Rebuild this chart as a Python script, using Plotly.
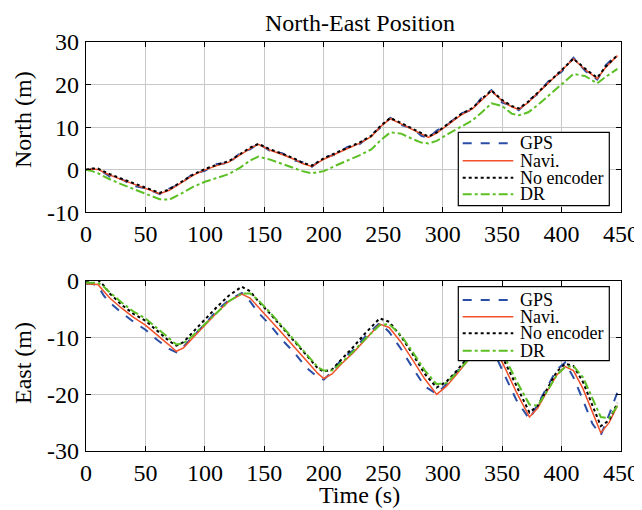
import plotly.graph_objects as go

t_north = [0, 5, 10, 20, 30, 40, 50, 62, 70, 80, 90, 100, 110, 120, 130, 138, 145, 155, 165, 175,
           182, 190, 200, 210, 220, 230, 240, 248, 256, 265, 275, 282, 288, 295, 305, 315, 325, 333,
           341, 350, 358, 364, 372, 380, 390, 400, 410, 420, 430, 437, 447]
north_gps = [0, 0.1, 0.3, -1.6, -2.2, -3.8, -4.3, -5.7, -4.4, -3.2, -0.9, -0.2, 1.4, 1.5, 4.0, 4.8, 6.2,
             4.4, 3.9, 2.2, 1.8, 0.7, 2.9, 3.6, 5.4, 6.0, 8.3, 10.0, 12.2, 10.5, 9.7, 8.0, 7.5, 9.2,
             10.8, 13.2, 14.1, 17.0, 18.7, 15.8, 15.1, 14.0, 16.3, 17.8, 21.1, 23.0, 26.3, 23.2, 21.2,
             24.5, 27.2]
north_navi = [0, 0.2, 0.1, -1.2, -2.3, -3.3, -4.4, -5.6, -4.8, -3.0, -1.3, 0, 1.0, 1.8, 3.6, 5.0, 6.0,
              4.6, 3.6, 2.5, 1.5, 0.8, 2.5, 3.8, 5.0, 6.2, 7.8, 10.2, 12.0, 10.8, 9.4, 8.3, 7.6, 8.6,
              10.8, 12.8, 14.3, 16.5, 18.5, 16.2, 14.8, 14.2, 15.8, 18.0, 20.6, 23.2, 26.0, 23.5, 21.4,
              24.0, 26.8]
north_noenc = [0, 0.3, 0.3, -1.0, -2.1, -3.1, -4.2, -5.4, -4.6, -2.8, -1.1, 0.2, 1.2, 2.0, 3.8, 5.2, 6.1,
               4.8, 3.8, 2.7, 1.7, 1.0, 2.7, 4.0, 5.2, 6.4, 8.0, 10.4, 12.2, 11.0, 9.6, 8.5, 7.8, 8.8,
               11.0, 13.0, 14.5, 16.7, 18.6, 16.4, 15.0, 14.4, 16.0, 18.2, 20.8, 23.4, 26.1, 23.7, 21.6,
               24.2, 26.9]
north_dr = [0, -0.3, -0.8, -2.2, -3.4, -4.5, -5.6, -6.9, -7.0, -5.6, -4.0, -2.8, -1.9, -1.0, 0.6, 2.2,
            3.1, 2.4, 1.4, 0.5, -0.3, -0.8, -0.3, 1.0, 2.2, 3.4, 4.8, 7.0, 8.8, 8.5, 7.2, 6.4, 6.2, 6.8,
            8.5, 10.0, 11.6, 13.5, 15.6, 15.0, 13.2, 12.8, 13.5, 15.2, 17.6, 20.2, 22.5, 22.0, 20.3,
            21.8, 23.7]

t_east = [0, 5, 10, 15, 20, 30, 40, 50, 60, 70, 76, 82, 90, 100, 110, 120, 131, 138, 145, 155, 165,
          175, 185, 195, 200, 207, 215, 225, 235, 247, 255, 265, 275, 285, 295, 303, 312, 322, 330,
          338, 345, 353, 362, 373, 380, 388, 396, 403, 410, 418, 426, 433, 440, 447]
east_gps = [-0.5, -0.5, -0.8, -2.6, -3.8, -5.6, -7.2, -8.6, -10.4, -12.0, -12.6, -11.6, -9.8, -7.6,
            -5.2, -3.4, -2.1, -3.6, -5.6, -7.8, -10.4, -12.6, -15.2, -17.0, -17.4, -16.0, -13.8, -12.2,
            -9.8, -7.4, -9.0, -12.0, -15.4, -18.6, -19.9, -18.2, -16.0, -13.4, -11.4, -10.6, -13.4,
            -17.0, -21.0, -24.4, -21.8, -18.6, -15.6, -14.4, -17.0, -21.0, -25.2, -27.2, -23.6, -19.6]
east_navi = [-0.5, -0.5, -0.6, -1.8, -3.0, -4.8, -6.4, -7.8, -9.5, -11.3, -12.4, -11.8, -10.0, -7.8,
             -5.6, -3.6, -2.3, -3.0, -4.6, -6.8, -9.2, -11.6, -14.0, -16.3, -17.2, -16.4, -14.6, -12.6,
             -10.3, -7.6, -8.2, -10.8, -14.0, -17.3, -20.0, -18.6, -16.4, -13.8, -11.8, -10.6, -12.2,
             -15.6, -19.6, -24.0, -22.4, -19.4, -16.6, -15.1, -15.8, -19.0, -23.2, -26.8, -25.0, -22.0]
east_noenc = [0, 0.2, 0.2, -0.8, -2.2, -4.2, -5.8, -7.0, -8.8, -10.6, -11.4, -10.8, -9.0, -6.8, -4.6,
              -2.6, -1.0, -1.8, -3.6, -5.8, -8.2, -10.6, -13.0, -15.4, -16.0, -15.6, -13.8, -11.6, -9.2,
              -6.6, -7.2, -9.8, -13.0, -16.4, -18.8, -17.8, -15.8, -13.2, -11.2, -10.0, -11.2, -14.6,
              -18.6, -23.2, -22.0, -19.0, -16.0, -14.6, -15.0, -17.8, -22.0, -25.6, -24.6, -21.5]
east_dr = [-0.3, -0.3, -0.3, -1.0, -2.0, -3.8, -5.4, -6.6, -8.4, -10.2, -11.2, -11.0, -9.6, -7.6, -5.6,
           -3.6, -2.2, -2.2, -3.4, -5.6, -8.0, -10.4, -12.8, -15.2, -15.8, -15.8, -14.4, -12.4, -10.2,
           -7.8, -7.6, -9.6, -12.6, -15.8, -18.2, -18.0, -16.2, -13.8, -11.8, -10.8, -10.8, -13.8,
           -17.6, -21.8, -22.0, -19.4, -16.6, -15.2, -15.0, -17.0, -20.6, -24.0, -24.2, -22.0]

x_ticks = [0, 50, 100, 150, 200, 250, 300, 350, 400, 450]
north_ticks = [-10, 0, 10, 20, 30]
east_ticks = [-30, -20, -10, 0]

names = ["GPS", "Navi.", "No encoder", "DR"]
colors = ["#2a4ea6", "#f0502a", "#000000", "#5cbf24"]
dashes = ["dash", "solid", "dot", "dashdot"]
widths = [2.0, 1.5, 2.0, 2.0]

FONT = "Liberation Serif, Times New Roman, Times, serif"
FS = 24

fig = go.Figure()

north = [north_gps, north_navi, north_noenc, north_dr]
east = [east_gps, east_navi, east_noenc, east_dr]
for i in range(4):
    fig.add_trace(go.Scatter(x=t_north, y=north[i], name=names[i], mode="lines",
                             line=dict(color=colors[i], dash=dashes[i], width=widths[i]),
                             xaxis="x", yaxis="y", showlegend=False))
for i in range(4):
    fig.add_trace(go.Scatter(x=t_east, y=east[i], name=names[i], mode="lines",
                             line=dict(color=colors[i], dash=dashes[i], width=widths[i]),
                             xaxis="x2", yaxis="y2", showlegend=False))


def lbl(v):
    return str(v)


axis_common = dict(showline=True, linecolor="black", linewidth=1.2, mirror="ticks",
                   ticks="inside", ticklen=5, tickcolor="black", automargin=False,
                   showgrid=True, gridcolor="#c8c8c8", gridwidth=1, zeroline=False,
                   tickfont=dict(family=FONT, size=FS, color="black"))

fig.update_layout(
    xaxis=dict(domain=[0, 1], anchor="y", range=[0, 450], tickvals=x_ticks,
               ticktext=[lbl(v) for v in x_ticks], ticklabelstandoff=0, **axis_common),
    yaxis=dict(domain=[0.5832, 1], anchor="x", range=[-10, 30], tickvals=north_ticks,
               ticktext=[lbl(v) for v in north_ticks], ticklabelstandoff=1, **axis_common),
    xaxis2=dict(domain=[0, 1], anchor="y2", range=[0, 450], tickvals=x_ticks,
                ticktext=[lbl(v) for v in x_ticks], ticklabelstandoff=0, **axis_common),
    yaxis2=dict(domain=[0, 0.4156], anchor="x2", range=[-30, 0], tickvals=east_ticks,
                ticktext=[lbl(v) for v in east_ticks], ticklabelstandoff=1, **axis_common),
)

title_font = dict(family=FONT, size=FS, color="black")
# Axis titles placed as annotations to match the reference layout
fig.add_annotation(xref="paper", yref="paper", x=(23 - 86) / 535, y=(451 - 120) / 409,
                   text="North (m)", textangle=-90, showarrow=False,
                   xanchor="center", yanchor="middle", font=title_font)
fig.add_annotation(xref="paper", yref="paper", x=(23 - 86) / 535, y=(451 - 363) / 409,
                   text="East (m)", textangle=-90, showarrow=False,
                   xanchor="center", yanchor="middle", font=title_font)
fig.add_annotation(xref="paper", yref="paper", x=(359 - 86) / 535, y=(451 - 495) / 409,
                   text="Time (s)", showarrow=False,
                   xanchor="center", yanchor="middle", font=title_font)


def add_legend(xref, yref, box, entries_y, dom_px):
    top_px, bot_px = dom_px

    def yd(py):
        return (bot_px - py) / (bot_px - top_px)

    def xd(px):
        return (px - 86) / 535
    fig.add_shape(type="rect", xref=xref, yref=yref,
                  x0=xd(box[0]), x1=xd(box[1]), y0=yd(box[3]), y1=yd(box[2]),
                  fillcolor="white", line=dict(color="black", width=1.2), layer="above")
    for i, py in enumerate(entries_y):
        fig.add_shape(type="line", xref=xref, yref=yref,
                      x0=xd(462.7), x1=xd(513.3), y0=yd(py), y1=yd(py),
                      line=dict(color=colors[i], dash=dashes[i], width=widths[i]), layer="above")
        fig.add_annotation(xref=xref, yref=yref, x=xd(517.5), y=yd(py), text=names[i],
                           showarrow=False, xanchor="left", yanchor="middle",
                           font=dict(family=FONT, size=18, color="black"))


add_legend("x domain", "y domain", (458.3, 609.3, 132.3, 205.7), [143.3, 160.7, 177.7, 194.3], (42, 212.5))
add_legend("x2 domain", "y2 domain", (458.3, 609.3, 286.7, 360.7), [300.0, 316.7, 333.3, 350.7], (281, 451))

# the page body adds an 8px offset: size the figure so it ends at the window edge
fig.update_layout(
    width=634, height=502,
    margin=dict(l=78, r=21, t=34, b=59, autoexpand=False),
    plot_bgcolor="white", paper_bgcolor="white",
    title=dict(text="North-East Position", x=(352 / 634), xanchor="center", y=1 - 15 / 502,
               yanchor="middle", font=dict(family=FONT, size=FS, color="black")),
    showlegend=False,
)

fig.write_html("out.html")
